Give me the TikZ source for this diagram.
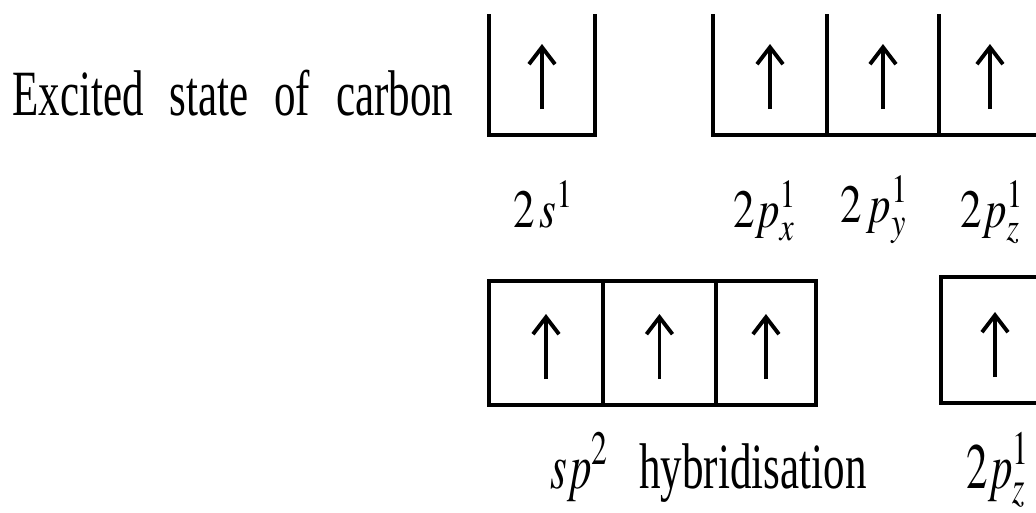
\documentclass[tikz,border=0pt]{standalone}
\usepackage{mathptmx}
\usepackage[no-math]{fontspec}
\setmainfont{Liberation Serif}
\usepackage{graphicx}
\usetikzlibrary{positioning,arrows.meta}
\newcommand{\bigfont}{\fontsize{24.5}{29}\selectfont}
\newcommand{\stretchtext}[2][1.5]{\scalebox{1}[#1]{\spaceskip=0.6em\relax#2}}
\tikzset{
    orbcell/.style={inner sep=0pt,outer sep=0pt,minimum height=2.42cm},
    boxline/.style={draw=black,line width=2pt},
    spin/.style={-{Straight Barb[length=0.34cm,width=0.52cm]},line width=2.2pt},
    bigtext/.style={anchor=base west,inner sep=0pt,font=\bigfont}
}

\begin{document}
\begin{tikzpicture}[x=0.02cm,y=-0.02cm]
    \useasboundingbox (0,0) rectangle (1036,512);

    \node[bigtext] (title) at (12,115) {\stretchtext{Excited state of carbon}};

    % excited state: 2s and 2p boxes (tops cut off)
    \node[orbcell,minimum width=2.12cm] (s) at (542,74.5) {};
    \node[orbcell,minimum width=2.28cm] (px) at (770,74.5) {};
    \node[orbcell,minimum width=2.24cm,right=0pt of px] (py) {};
    \node[orbcell,minimum width=2.04cm,right=0pt of py] (pz) {};

    \draw[boxline] (s.north west) -- (s.south west) -- (s.south east) -- (s.north east);
    \draw[boxline] (px.north west) -- (px.south west) -- (pz.south east) -- (pz.north east);
    \draw[boxline] (px.north east) -- (px.south east);
    \draw[boxline] (py.north east) -- (py.south east);

    \node[bigtext] (ls) at (513,227) {\stretchtext[1.25]{$2\,s^1$}};
    \node[bigtext] (lpx) at (733,227) {\stretchtext[1.25]{$2p^1_x$}};
    \node[bigtext] (lpy) at (840,222) {\stretchtext[1.25]{$2\,p^1_y$}};
    \node[bigtext] (lpz) at (960,227) {\stretchtext[1.25]{$2p^1_z$}};

    % sp2 hybrid boxes and the unhybridised 2p_z
    \node[orbcell,boxline,minimum width=2.28cm,minimum height=2.48cm] (ha) at (546,343) {};
    \node[orbcell,boxline,minimum width=2.26cm,minimum height=2.48cm,right=0pt of ha] (hb) {};
    \node[orbcell,boxline,minimum width=2.00cm,minimum height=2.48cm,right=0pt of hb] (hc) {};
    \node[orbcell,boxline,minimum width=2.16cm,minimum height=2.52cm] (pzb) at (995,340) {};

    \foreach \c in {s,px,py,pz,ha,hb,hc,pzb}
        \draw[spin] ([yshift=0.52cm]\c.south) -- ([yshift=1.82cm]\c.south);

    \node[bigtext] (lsp) at (550,488) {\stretchtext{$sp^2$}};
    \node[bigtext] (lhyb) at (639,488) {\stretchtext{hybridisation}};
    \node[bigtext] (lpzb) at (966,488) {\stretchtext{$2p^1_z$}};
\end{tikzpicture}
\end{document}
